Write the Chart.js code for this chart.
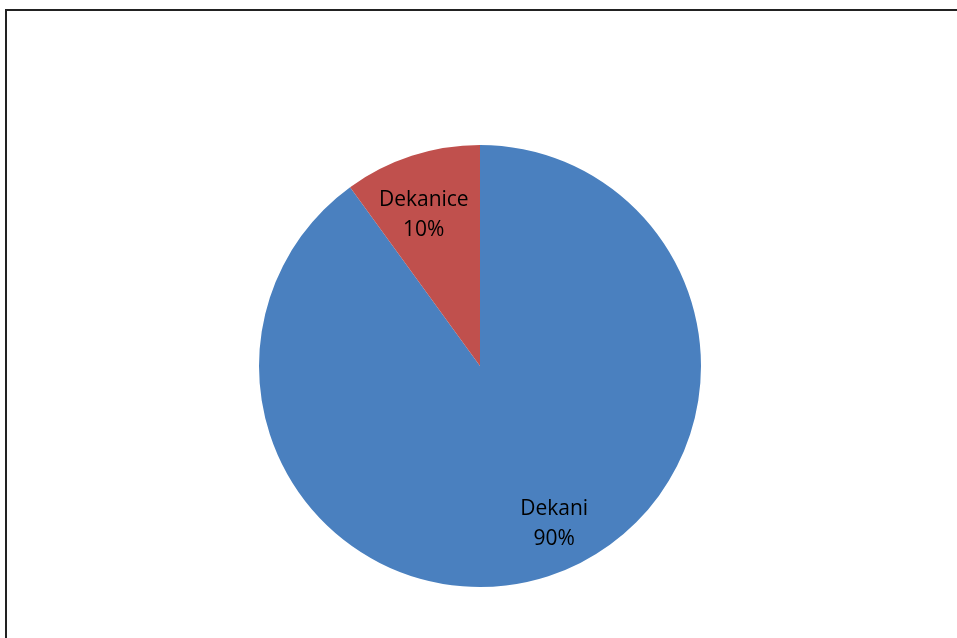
<!DOCTYPE html>
<html>
<head>
<meta charset="utf-8">
<script src="https://cdn.jsdelivr.net/npm/chart.js@4"></script>
<style>
  html, body { margin: 0; padding: 0; background: #fff; overflow: hidden; }
  #frame {
    position: absolute; left: 5px; top: 9px;
    width: 1000px; height: 700px;
    border: 2px solid #222;
  }
  #wrap { position: absolute; left: 0; top: 0; width: 957px; height: 638px; }
</style>
</head>
<body>
<div id="frame"></div>
<div id="wrap"><canvas id="pieChart"></canvas></div>
<script>
  const categories = ["Dekani", "Dekanice"];
  const shares = [90, 10];
  const colors = ["#4a80bf", "#c0504d"];
  // small label nudges (px) so text sits where the original placed it
  const labelShiftX = [23, -5];
  const labelShiftY = [0, 7];

  // labels inside slices: name on first line, percent below
  const sliceLabels = {
    id: "sliceLabels",
    afterDatasetsDraw(chart) {
      const ctx = chart.ctx;
      const meta = chart.getDatasetMeta(0);
      ctx.save();
      ctx.font = "21px 'Open Sans', sans-serif";
      ctx.fillStyle = "#000";
      ctx.textAlign = "center";
      ctx.textBaseline = "middle";
      meta.data.forEach((arc, i) => {
        const mid = (arc.startAngle + arc.endAngle) / 2;
        const r = arc.outerRadius * 0.75;
        const x = arc.x + Math.cos(mid) * r + labelShiftX[i];
        const y = arc.y + Math.sin(mid) * r + labelShiftY[i];
        ctx.fillText(categories[i], x, y - 15);
        ctx.fillText(shares[i] + "%", x, y + 15);
      });
      ctx.restore();
    }
  };

  document.addEventListener("DOMContentLoaded", function () {
    const ctx = document.getElementById("pieChart").getContext("2d");
    new Chart(ctx, {
      type: "pie",
      data: {
        labels: categories,
        datasets: [{
          data: shares,
          backgroundColor: colors,
          borderWidth: 0
        }]
      },
      options: {
        responsive: true,
        maintainAspectRatio: false,
        animation: false,
        layout: { padding: { top: 145, bottom: 51, left: 259, right: 256 } },
        plugins: {
          legend: { display: false },
          tooltip: { enabled: false }
        }
      },
      plugins: [sliceLabels]
    });
  });
</script>
</body>
</html>
